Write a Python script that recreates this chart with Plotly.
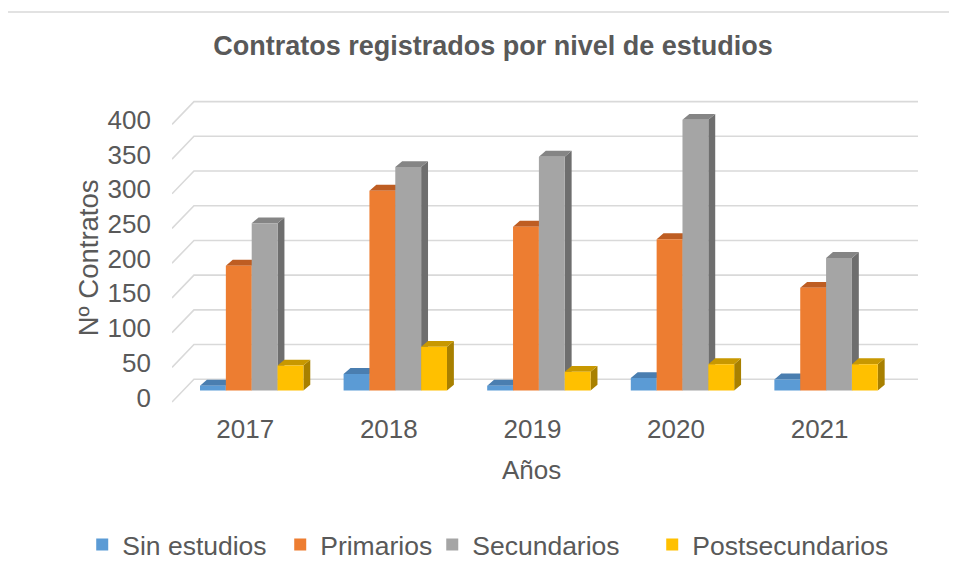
import plotly.graph_objects as go

years = ["2017", "2018", "2019", "2020", "2021"]
series_names = ["Sin estudios", "Primarios", "Secundarios", "Postsecundarios"]
sin_estudios = [7, 24, 7, 18, 16]
primarios = [180, 288, 236, 218, 148]
secundarios = [241, 322, 337, 390, 191]
postsecundarios = [36, 63, 27, 38, 38]
y_ticks = [0, 50, 100, 150, 200, 250, 300, 350, 400]

series_values = [sin_estudios, primarios, secundarios, postsecundarios]
# front, top, side colours for each series
front_colors = ["#5B9BD5", "#ED7D31", "#A5A5A5", "#FFC000"]
top_colors = ["#4A7EB0", "#BE5D22", "#858585", "#C89800"]
side_colors = ["#3F6E9B", "#A9561F", "#6E6E6E", "#A88000"]

text_color = "#595959"
font_family = "Liberation Sans, Arial, sans-serif"

bar_w = 0.18
depth_x = 0.048
depth_y = 8.5
front_off = -16.5
label_off = -10
back_off = 16.3
floor_left = -0.555
wall_left = -0.402
wall_right = 4.64

fig = go.Figure()

# back wall gridlines with the diagonal floor edge
gx, gy = [], []
for v in y_ticks:
    gx += [floor_left, wall_left, wall_right, None]
    gy += [v + front_off, v + back_off, v + back_off, None]
fig.add_trace(go.Scatter(x=gx, y=gy, mode="lines", line=dict(color="#D9D9D9", width=1.6),
                         hoverinfo="skip", showlegend=False))

# pseudo 3d columns
for j, vals in enumerate(series_values):
    fx, fy, tx, ty, sx, sy = [], [], [], [], [], []
    for i, v in enumerate(vals):
        xl = i + (j - 2) * bar_w
        xr = xl + bar_w
        fx += [xl, xr, xr, xl, xl, None]
        fy += [0, 0, v, v, 0, None]
        tx += [xl, xr, xr + depth_x, xl + depth_x, xl, None]
        ty += [v, v, v + depth_y, v + depth_y, v, None]
        sx += [xr, xr + depth_x, xr + depth_x, xr, xr, None]
        sy += [0, depth_y, v + depth_y, v, 0, None]
    for xs, ys, col in [(sx, sy, side_colors[j]), (tx, ty, top_colors[j]), (fx, fy, front_colors[j])]:
        fig.add_trace(go.Scatter(x=xs, y=ys, mode="lines", fill="toself", fillcolor=col,
                                 line=dict(width=0, color=col), hoverinfo="skip", showlegend=False))

# legend entries, one legend each so the spacing follows the original
legend_x = [-0.1197, 0.1443, 0.347, 0.6403]
legend_ids = ["legend", "legend2", "legend3", "legend4"]
for j, name in enumerate(series_names):
    fig.add_trace(go.Scatter(x=[None], y=[None], mode="markers", name=name, legend=legend_ids[j],
                             marker=dict(symbol="square", size=12, color=front_colors[j])))

legend_style = dict(orientation="h", xanchor="left", y=-0.46, yanchor="middle",
                    font=dict(size=26.5, color=text_color), itemwidth=30, bgcolor="rgba(0,0,0,0)")

fig.update_layout(
    width=949,
    height=573,
    margin=dict(l=164, r=35, t=87, b=171),
    paper_bgcolor="white",
    plot_bgcolor="white",
    font=dict(family=font_family, color=text_color, size=26),
    title=dict(text="<b>Contratos registrados por nivel de estudios</b>", x=485 / 949, xref="container",
               y=1 - 38 / 573, yanchor="middle", yref="container",
               font=dict(size=27, color=text_color, family=font_family)),
    legend=dict(x=legend_x[0], **legend_style),
    legend2=dict(x=legend_x[1], **legend_style),
    legend3=dict(x=legend_x[2], **legend_style),
    legend4=dict(x=legend_x[3], **legend_style),
    showlegend=True,
)

fig.update_xaxes(range=[-0.555, 4.668], tickvals=[i - 0.045 for i in range(len(years))], ticktext=years,
                 showgrid=False, zeroline=False, showline=False, ticks="", ticklabelstandoff=8,
                 tickfont=dict(size=26, color=text_color))
fig.update_yaxes(range=[-17.9, 425.8], tickvals=[v + label_off for v in y_ticks], ticktext=[str(v) for v in y_ticks],
                 showgrid=False, zeroline=False, showline=False, ticks="", ticklabelstandoff=20,
                 tickfont=dict(size=26, color=text_color))

fig.add_annotation(text="Nº Contratos", xref="paper", yref="paper", x=-0.112, y=0.47, textangle=-90,
                   showarrow=False, xanchor="center", yanchor="middle", font=dict(size=27.5, color=text_color))
fig.add_annotation(text="Años", xref="paper", yref="paper", x=0.4787, y=-0.219,
                   showarrow=False, xanchor="center", yanchor="middle", font=dict(size=26, color=text_color))

# chart border (top edge visible)
fig.add_shape(type="rect", xref="paper", yref="paper", x0=-0.3, y0=-0.8, x1=1.3, y1=1.2698,
              line=dict(color="#D9D9D9", width=1.5), fillcolor="rgba(0,0,0,0)", layer="below")

fig.write_html("out.html")
